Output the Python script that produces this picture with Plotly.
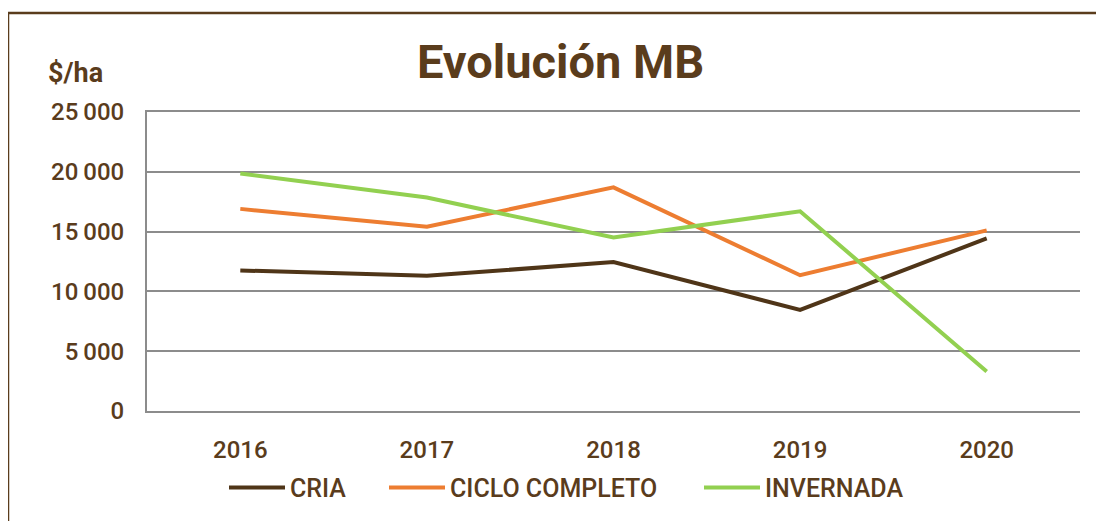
import plotly.graph_objects as go

years = ["2016", "2017", "2018", "2019", "2020"]
cria = [11750, 11300, 12450, 8450, 14430]
ciclo_completo = [16900, 15400, 18700, 11350, 15100]
invernada = [19850, 17850, 14500, 16700, 3300]
series_names = ["CRIA", "CICLO COMPLETO", "INVERNADA"]
y_ticks = [0, 5000, 10000, 15000, 20000, 25000]
y_ticktext = ["0", "5\u2009000", "10\u2009000", "15\u2009000", "20\u2009000", "25\u2009000"]

BROWN = "#5a3c1c"
colors = ["#4f3518", "#ed7d31", "#92d050"]
legend_widths = [89, 244, 141]
FONT = "Roboto, 'Open Sans', sans-serif"
TICKFONT = dict(size=24, color=BROWN, weight=500, family=FONT)

fig = go.Figure()
for name, vals, col, lw in zip(series_names, [cria, ciclo_completo, invernada], colors, legend_widths):
    fig.add_trace(go.Scatter(x=years, y=vals, name=name, mode="lines",
                             line=dict(color=col, width=4), legendwidth=lw))

fig.update_layout(
    width=1104, height=521,
    margin=dict(l=139, r=32, t=104, b=118, autoexpand=False),
    paper_bgcolor="white", plot_bgcolor="white",
    font=dict(family=FONT, color=BROWN, size=20),
    showlegend=True,
    legend=dict(orientation="h", x=(224 - 147) / 933, xanchor="left", y=-0.18, yanchor="top",
                font=dict(size=25, color=BROWN, weight=500, family=FONT),
                itemwidth=56, traceorder="normal"),
    xaxis=dict(type="category", range=[-0.5, 4.5], showgrid=False,
               showline=True, mirror=True, linecolor="#8c8c8c", linewidth=2,
               ticks="", automargin=False, tickfont=TICKFONT, ticklabelstandoff=16),
    yaxis=dict(range=[0, 25000], tickvals=y_ticks, ticktext=y_ticktext,
               showgrid=True, gridcolor="#8c8c8c", gridwidth=2, automargin=False,
               zeroline=False, showline=True, linecolor="#8c8c8c", linewidth=2,
               ticks="", tickfont=TICKFONT, ticklabelstandoff=16),
    annotations=[
        dict(text="<b>Evolución MB</b>", x=(560 - 147) / 933, y=(411 - 62) / 299,
             xref="paper", yref="paper", xanchor="center", yanchor="middle",
             showarrow=False, font=dict(size=47, color=BROWN, family=FONT)),
        dict(text="<b>$/ha</b>", x=(46 - 147) / 933, y=(411 - 73) / 299,
             xref="paper", yref="paper", xanchor="left", yanchor="middle",
             showarrow=False, font=dict(size=27, color=BROWN, family=FONT)),
    ],
    shapes=[
        dict(type="rect", xref="paper", yref="paper",
             x0=(8 - 147) / 933, x1=(1115 - 147) / 933,
             y0=(411 - 540) / 299, y1=(411 - 13) / 299,
             line=dict(color=BROWN, width=2.5), fillcolor="rgba(0,0,0,0)", layer="below"),
    ],
)

fig.write_html("out.html")
